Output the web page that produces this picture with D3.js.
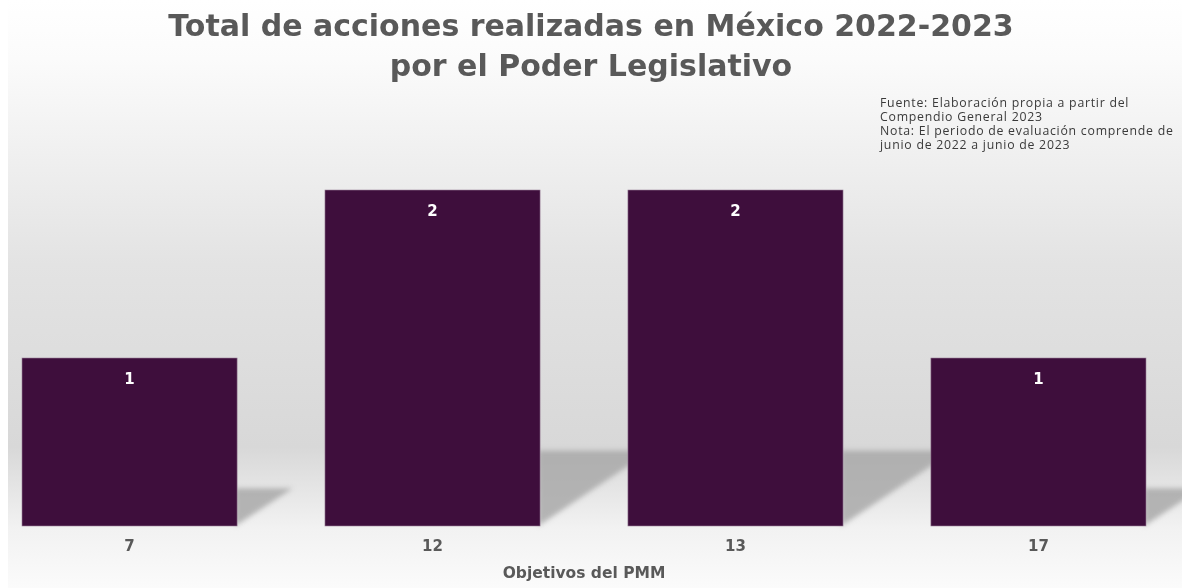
<!DOCTYPE html>
<html>
<head>
<meta charset="utf-8">
<script src="https://cdn.jsdelivr.net/npm/d3@7"></script>
<style>
  html, body { margin: 0; padding: 0; background: #ffffff; }
  svg { display: block; font-family: "Open Sans", "Noto Sans", sans-serif; }
</style>
</head>
<body>
<div id="chart"></div>
<script>
// data
const categories = ["7", "12", "13", "17"];
const acciones = [1, 2, 2, 1];
const titleLines = ["Total de acciones realizadas en México 2022-2023", "por el Poder Legislativo"];
const noteLines = [
  "Fuente: Elaboración propia a partir del",
  "Compendio General 2023",
  "Nota: El periodo de evaluación comprende de",
  "junio de 2022 a junio de 2023"
];
const xTitle = "Objetivos del PMM";

const W = 1182, H = 588;
const baseY = 526;
const barColor = "#3e0e3c";
const textGrey = "#595959";
const boldFont = "\"DejaVu Sans\", sans-serif";

const svg = d3.select("#chart").append("svg")
  .attr("width", W)
  .attr("height", H);

const defs = svg.append("defs");
const bg = defs.append("linearGradient")
  .attr("id", "bg")
  .attr("x1", 0).attr("y1", 0).attr("x2", 0).attr("y2", 1);
bg.append("stop").attr("offset", "0%").attr("stop-color", "#ffffff");
bg.append("stop").attr("offset", "10%").attr("stop-color", "#fbfbfb");
bg.append("stop").attr("offset", "45%").attr("stop-color", "#e3e3e3");
bg.append("stop").attr("offset", "76%").attr("stop-color", "#d8d8d8");
bg.append("stop").attr("offset", "90%").attr("stop-color", "#f2f2f2");
bg.append("stop").attr("offset", "100%").attr("stop-color", "#fbfbfb");

defs.append("filter")
  .attr("id", "blur")
  .attr("x", "-20%").attr("y", "-20%").attr("width", "140%").attr("height", "140%")
  .append("feGaussianBlur").attr("stdDeviation", 2.5);

// background panel
svg.append("rect")
  .attr("x", 8).attr("y", 0)
  .attr("width", W - 8).attr("height", H)
  .attr("fill", "url(#bg)");

// scales
const x = d3.scaleBand()
  .domain(categories)
  .range([22, 1146])
  .paddingInner(0.29)
  .paddingOuter(0);

const y = d3.scaleLinear()
  .domain([0, 2])
  .range([baseY, 190]);

const rows = categories.map((c, i) => ({ cat: c, value: acciones[i] }));

// floor shadows behind the bars
const shadowG = svg.append("g").attr("class", "shadows").attr("filter", "url(#blur)");
shadowG.selectAll("path")
  .data(rows)
  .join("path")
  .attr("d", (d) => {
    const right = x(d.cat) + x.bandwidth();
    const depth = (y(0) - y(d.value)) * 0.225;
    const top = y(0) - depth;
    const len = depth * 1.47;
    return `M${right - 2},${y(0)} L${right - 2},${top} L${right + len},${top} Z`;
  })
  .attr("fill", "#a5a5a5")
  .attr("opacity", 0.8);

// bars
svg.append("g")
  .selectAll("rect")
  .data(rows)
  .join("rect")
  .attr("x", (d) => x(d.cat))
  .attr("y", (d) => y(d.value))
  .attr("width", x.bandwidth())
  .attr("height", (d) => y(0) - y(d.value))
  .attr("fill", barColor)
  .attr("stroke", "#9a8098")
  .attr("stroke-width", 0.6);

// value labels
svg.append("g")
  .selectAll("text")
  .data(rows)
  .join("text")
  .attr("x", (d) => x(d.cat) + x.bandwidth() / 2)
  .attr("y", (d) => y(d.value) + 26)
  .attr("text-anchor", "middle")
  .attr("font-family", boldFont)
  .attr("font-size", 15)
  .attr("font-weight", 700)
  .attr("fill", "#ffffff")
  .text((d) => d.value);

// x axis
const xAxis = svg.append("g")
  .attr("transform", `translate(0, ${baseY})`)
  .call(d3.axisBottom(x).tickSize(0).tickPadding(14));
xAxis.select(".domain").remove();
xAxis.selectAll("text")
  .attr("font-family", boldFont)
  .attr("font-size", 15)
  .attr("font-weight", 700)
  .attr("fill", textGrey);

svg.append("text")
  .attr("x", 584)
  .attr("y", 578)
  .attr("text-anchor", "middle")
  .attr("font-family", boldFont)
  .attr("font-size", 15.5)
  .attr("font-weight", 700)
  .attr("fill", textGrey)
  .text(xTitle);

// title
svg.append("g")
  .selectAll("text")
  .data(titleLines)
  .join("text")
  .attr("x", 591)
  .attr("y", (d, i) => 36 + i * 40)
  .attr("text-anchor", "middle")
  .attr("font-family", boldFont)
  .attr("font-size", 30)
  .attr("font-weight", 700)
  .attr("fill", textGrey)
  .text((d) => d);

// source note
svg.append("g")
  .selectAll("text")
  .data(noteLines)
  .join("text")
  .attr("x", 880)
  .attr("y", (d, i) => 107 + i * 14)
  .attr("font-size", 12.3)
  .attr("letter-spacing", 0.75)
  .attr("fill", "#3a3a3a")
  .text((d) => d);
</script>
</body>
</html>
